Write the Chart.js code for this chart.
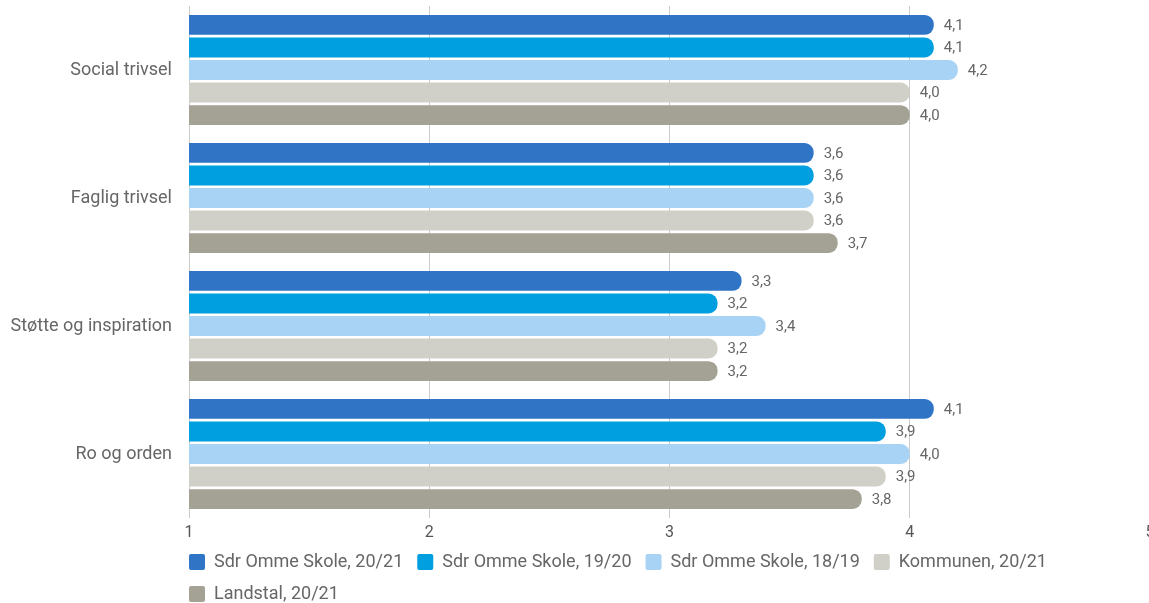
<!DOCTYPE html>
<html>
<head>
<meta charset="utf-8">
<script src="https://cdn.jsdelivr.net/npm/chart.js@4"></script>
<style>
  html, body { margin: 0; padding: 0; background: #fff; overflow: hidden; }
  #wrap { width: 1150px; height: 613px; }
</style>
</head>
<body>
<div id="wrap"><canvas id="chart"></canvas></div>
<script>
const categories = ['Social trivsel', 'Faglig trivsel', 'Støtte og inspiration', 'Ro og orden'];
const seriesNames = ['Sdr Omme Skole, 20/21', 'Sdr Omme Skole, 19/20', 'Sdr Omme Skole, 18/19', 'Kommunen, 20/21', 'Landstal, 20/21'];
const skole2021 = [4.1, 3.6, 3.3, 4.1];
const skole1920 = [4.1, 3.6, 3.2, 3.9];
const skole1819 = [4.2, 3.6, 3.4, 4.0];
const kommunen2021 = [4.0, 3.6, 3.2, 3.9];
const landstal2021 = [4.0, 3.7, 3.2, 3.8];
const xTicks = [1, 2, 3, 4, 5];

const colors = ['#3074c6', '#009fe0', '#a9d3f5', '#d1d0c8', '#a4a295'];
const seriesValues = [skole2021, skole1920, skole1819, kommunen2021, landstal2021];
const legendPad = 14;

// values written at the end of each bar, with a decimal comma
const valueLabels = {
    id: 'valueLabels',
    afterDatasetsDraw(chart) {
        const ctx = chart.ctx;
        ctx.save();
        ctx.font = '15px Roboto';
        ctx.fillStyle = '#666';
        ctx.textAlign = 'left';
        ctx.textBaseline = 'middle';
        chart.data.datasets.forEach((ds, i) => {
            chart.getDatasetMeta(i).data.forEach((bar, j) => {
                const txt = ds.data[j].toFixed(1).replace('.', ',');
                ctx.fillText(txt, bar.x + 10, bar.y + 1);
            });
        });
        ctx.restore();
    }
};

// line the legend up with the left edge of the plot
const legendShift = {
    id: 'legendShift',
    afterLayout(chart) {
        chart.legend.left -= legendPad;
        chart.legend.right -= legendPad;
    }
};

new Chart(document.getElementById('chart'), {
    type: 'bar',
    data: {
        labels: categories,
        datasets: seriesValues.map((vals, i) => ({
            label: seriesNames[i],
            data: vals,
            backgroundColor: colors[i],
            borderWidth: 0,
            borderRadius: 9,
            borderSkipped: 'start',
            categoryPercentage: 0.88,
            barPercentage: 0.88
        }))
    },
    options: {
        indexAxis: 'y',
        responsive: true,
        maintainAspectRatio: false,
        animation: false,
        layout: { padding: { top: 6, right: 0, left: 0, bottom: 0 } },
        scales: {
            x: {
                min: 1,
                max: 5,
                afterBuildTicks: scale => { scale.ticks = xTicks.map(v => ({ value: v })); },
                afterFit: scale => {
                    scale.paddingLeft = 0;
                    scale.paddingRight = 0;
                    scale.height = 21;
                },
                grid: { color: '#cccccc', drawTicks: false },
                border: { display: false },
                ticks: {
                    padding: 7,
                    color: '#555',
                    maxRotation: 0,
                    font: { family: 'Roboto', size: 16, lineHeight: 1 },
                    callback: v => String(v)
                }
            },
            y: {
                grid: { display: false, drawTicks: false },
                border: { display: false },
                afterFit: scale => {
                    scale.width = 189;
                    scale.paddingTop = 0;
                    scale.paddingBottom = 0;
                },
                ticks: {
                    padding: 17,
                    color: '#666',
                    font: { family: 'Roboto', size: 18 }
                }
            }
        },
        plugins: {
            legend: {
                position: 'bottom',
                align: 'start',
                fullSize: false,
                labels: {
                    boxWidth: 16,
                    boxHeight: 16,
                    padding: legendPad,
                    useBorderRadius: true,
                    borderRadius: 2,
                    color: '#666',
                    font: { family: 'Roboto', size: 18 }
                }
            },
            tooltip: { enabled: false }
        }
    },
    plugins: [valueLabels, legendShift]
});
</script>
</body>
</html>
